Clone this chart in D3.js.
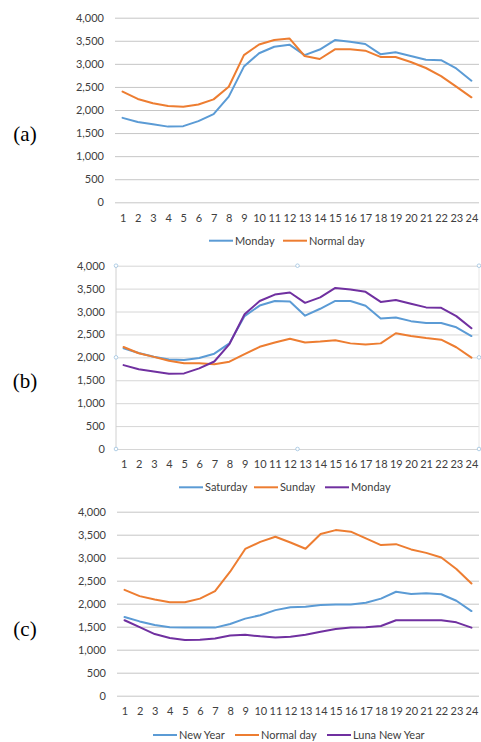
<!DOCTYPE html>
<html><head><meta charset="utf-8">
<script src="https://cdn.jsdelivr.net/npm/d3@7"></script>
<style>
html,body{margin:0;padding:0;background:#fff;}
svg{display:block;}
</style></head>
<body>
<script>
const hours = d3.range(1, 25);
const yTicks = [0, 500, 1000, 1500, 2000, 2500, 3000, 3500, 4000];

// Panel (a)
const mondayA = [1830,1740,1690,1640,1650,1760,1910,2290,2940,3230,3370,3415,3190,3310,3515,3480,3430,3210,3250,3170,3090,3080,2900,2635];
const normalA = [2400,2240,2145,2085,2070,2120,2230,2505,3190,3420,3515,3550,3170,3105,3315,3315,3285,3150,3150,3040,2910,2735,2505,2275];

// Panel (b)
const saturdayB = [2200,2095,2015,1955,1940,1985,2080,2305,2900,3130,3230,3220,2910,3060,3230,3230,3125,2850,2870,2790,2750,2750,2655,2465];
const sundayB = [2225,2090,2010,1925,1870,1870,1850,1905,2070,2230,2325,2405,2325,2345,2375,2305,2280,2305,2525,2465,2420,2385,2220,1995];
const mondayB = mondayA;

// Panel (c)
const newYearC = [1710,1615,1535,1490,1480,1480,1480,1560,1675,1750,1860,1925,1935,1970,1985,1985,2020,2110,2260,2210,2225,2205,2065,1840];
const normalC = [2300,2165,2090,2030,2030,2110,2275,2695,3190,3345,3455,3330,3195,3515,3600,3565,3420,3275,3295,3180,3105,3005,2755,2440];
const lunaC = [1640,1490,1340,1255,1210,1215,1245,1310,1325,1290,1265,1280,1325,1390,1450,1485,1490,1515,1640,1640,1640,1640,1595,1480];

const BLUE = "#5B9BD5", ORANGE = "#ED7D31", PURPLE = "#7030A0";
const FONT = "Lato, 'Open Sans', sans-serif";
const TXT = "#404040";

const panels = [
  { label: "(a)", labelY: 134, xL: 115, xR: 479, yT: 17.7, y0: 202.3, xlabY: 218.5, legY: 240.7, grid: "#c6c6c6", selected: false,
    series: [
      { name: "Monday", values: mondayA, color: BLUE, lx: 209 },
      { name: "Normal day", values: normalA, color: ORANGE, lx: 283 }
    ] },
  { label: "(b)", labelY: 381, xL: 116, xR: 479, yT: 265.7, y0: 449, xlabY: 464.5, legY: 487.3, grid: "#d6d6d6", selected: true,
    series: [
      { name: "Saturday", values: saturdayB, color: BLUE, lx: 179 },
      { name: "Sunday", values: sundayB, color: ORANGE, lx: 254 },
      { name: "Monday", values: mondayB, color: PURPLE, lx: 325 }
    ] },
  { label: "(c)", labelY: 629, xL: 117, xR: 479, yT: 511.7, y0: 695.7, xlabY: 711, legY: 735, grid: "#c6c6c6", selected: false,
    series: [
      { name: "New Year", values: newYearC, color: BLUE, lx: 153 },
      { name: "Normal day", values: normalC, color: ORANGE, lx: 235 },
      { name: "Luna New Year", values: lunaC, color: PURPLE, lx: 327 }
    ] }
];

const svg = d3.select("body").append("svg").attr("width", 481).attr("height", 742);

panels.forEach(p => {
  const g = svg.append("g");
  const x = d3.scalePoint().domain(hours).range([p.xL, p.xR]).padding(0.5);
  const y = d3.scaleLinear().domain([0, 4000]).range([p.y0, p.yT]);

  // panel label
  g.append("text").attr("x", 25).attr("y", p.labelY).attr("text-anchor", "middle")
    .attr("dominant-baseline", "central")
    .style("font-family", "'Liberation Serif', 'DejaVu Serif', serif").style("font-size", "21px").attr("fill", "#000")
    .text(p.label);

  // y axis with gridlines
  const yAxis = d3.axisLeft(y).tickValues(yTicks).tickSize(-(p.xR - p.xL)).tickPadding(11)
    .tickFormat(d3.format(","));
  const ya = g.append("g").attr("transform", `translate(${p.xL},0)`).call(yAxis);
  ya.select(".domain").remove();
  ya.selectAll(".tick line").attr("stroke", p.grid).attr("stroke-width", 1);
  ya.selectAll(".tick text").attr("fill", TXT).style("font-family", FONT).style("font-size", "11px");

  // x axis labels
  const xAxis = d3.axisBottom(x).tickSize(0).tickPadding(0);
  const xa = g.append("g").attr("transform", `translate(0,${p.xlabY})`).call(xAxis);
  xa.select(".domain").remove();
  xa.selectAll(".tick text").attr("fill", TXT).style("font-family", FONT).style("font-size", "11px")
    .attr("dy", "0.35em").attr("y", 0);

  if (p.selected) {
    g.append("line").attr("x1", p.xL).attr("x2", p.xL).attr("y1", p.yT).attr("y2", p.y0)
      .attr("stroke", "#d0d0d0").attr("stroke-width", 1);
    g.append("line").attr("x1", p.xR).attr("x2", p.xR).attr("y1", p.yT).attr("y2", p.y0)
      .attr("stroke", "#e6e6e6").attr("stroke-width", 1);
    const hx = [p.xL, (p.xL + p.xR) / 2, p.xR];
    const hy = [p.yT, (p.yT + p.y0) / 2, p.y0];
    const handles = [];
    hx.forEach((hxx, i) => hy.forEach((hyy, j) => { if (!(i === 1 && j === 1)) handles.push([hxx, hyy]); }));
    g.selectAll("circle.h").data(handles).enter().append("circle")
      .attr("cx", d => d[0]).attr("cy", d => d[1]).attr("r", 1.8)
      .attr("fill", "#fff").attr("stroke", "#9ec3e0").attr("stroke-width", 0.8);
  }

  const line = d3.line().x((d, i) => x(hours[i])).y(d => y(d));
  p.series.forEach(s => {
    g.append("path").datum(s.values).attr("d", line).attr("fill", "none")
      .attr("stroke", s.color).attr("stroke-width", 2).attr("stroke-linejoin", "round").attr("stroke-linecap", "round");
  });

  // legend
  p.series.forEach(s => {
    g.append("line").attr("x1", s.lx).attr("x2", s.lx + 24).attr("y1", p.legY).attr("y2", p.legY)
      .attr("stroke", s.color).attr("stroke-width", 2);
    g.append("text").attr("x", s.lx + 26).attr("y", p.legY).attr("dy", "0.35em")
      .attr("fill", TXT).style("font-family", FONT).style("font-size", "11px").text(s.name);
  });
});
</script>
</body></html>
